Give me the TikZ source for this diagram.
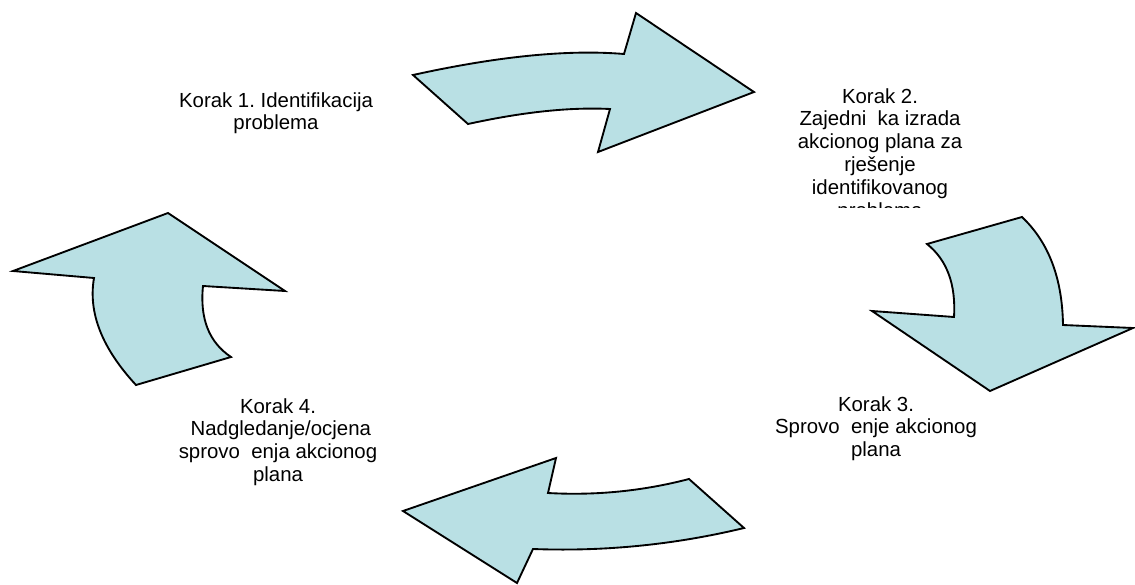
\documentclass[tikz,border=0pt]{standalone}
\usepackage{fontspec}
\setmainfont{Liberation Sans}
\usepackage{xcolor}
\frenchspacing
\definecolor{arrowfill}{RGB}{185,224,228}
\tikzset{
	bigarrow/.style={fill=arrowfill, draw=black, line width=1.4pt, line join=miter},
	steptext/.style={align=center, anchor=north, inner sep=0pt, text=black,
			font=\fontsize{15.3}{17.2}\selectfont}
}

\begin{document}
\begin{tikzpicture}[x=0.75pt,y=-0.75pt]
		\useasboundingbox (0,0) rectangle (1135,585);

		\filldraw[bigarrow] (413,75) .. controls (497.7,56.3) and (568,49.3) .. (624,54) -- (636,13) -- (754,92)
		-- (598,152) -- (610,109) .. controls (570,107) and (522.7,112) .. (468,124) -- cycle;
		\filldraw[bigarrow] (927,244) -- (1022,217) .. controls (1048.7,242.3) and (1062.3,278.3) .. (1063,325)
		-- (1133,328) -- (990,391) -- (872,311) -- (954,317) .. controls (956,284.3) and (947,260) .. (927,244) -- cycle;
		\filldraw[bigarrow] (403,511) -- (556,458) -- (548,493) .. controls (596,495.7) and (643,491) .. (689,479)
		-- (744,528) .. controls (674.7,544.7) and (604.3,551.7) .. (533,549) -- (517,583) -- cycle;
		\filldraw[bigarrow] (168,213) -- (285,291) -- (203,286) .. controls (199.7,318.7) and (209,342.3) .. (231,357)
		-- (136,385) .. controls (102,348.3) and (88,312.7) .. (94,278) -- (13,271) -- cycle;

		\node[steptext] (step1) at (276,92) {Korak 1. Identifikacija\\problema};
		\begin{scope}
			\clip (760,80) rectangle (1000,207.5);
			\node[steptext] (step2) at (880,88) {Korak 2.\\Zajedni\ \ ka izrada\\akcionog plana za\\rješenje\\identifikovanog\\problema};
		\end{scope}
		\node[steptext] (step3) at (876,396) {Korak 3.\\Sprovo\ \ enje akcionog\\plana};
		\node[steptext] (step4) at (278,398) {Korak 4.\\\ Nadgledanje/ocjena\\sprovo\ \ enja akcionog\\plana};

	\end{tikzpicture}
\end{document}
